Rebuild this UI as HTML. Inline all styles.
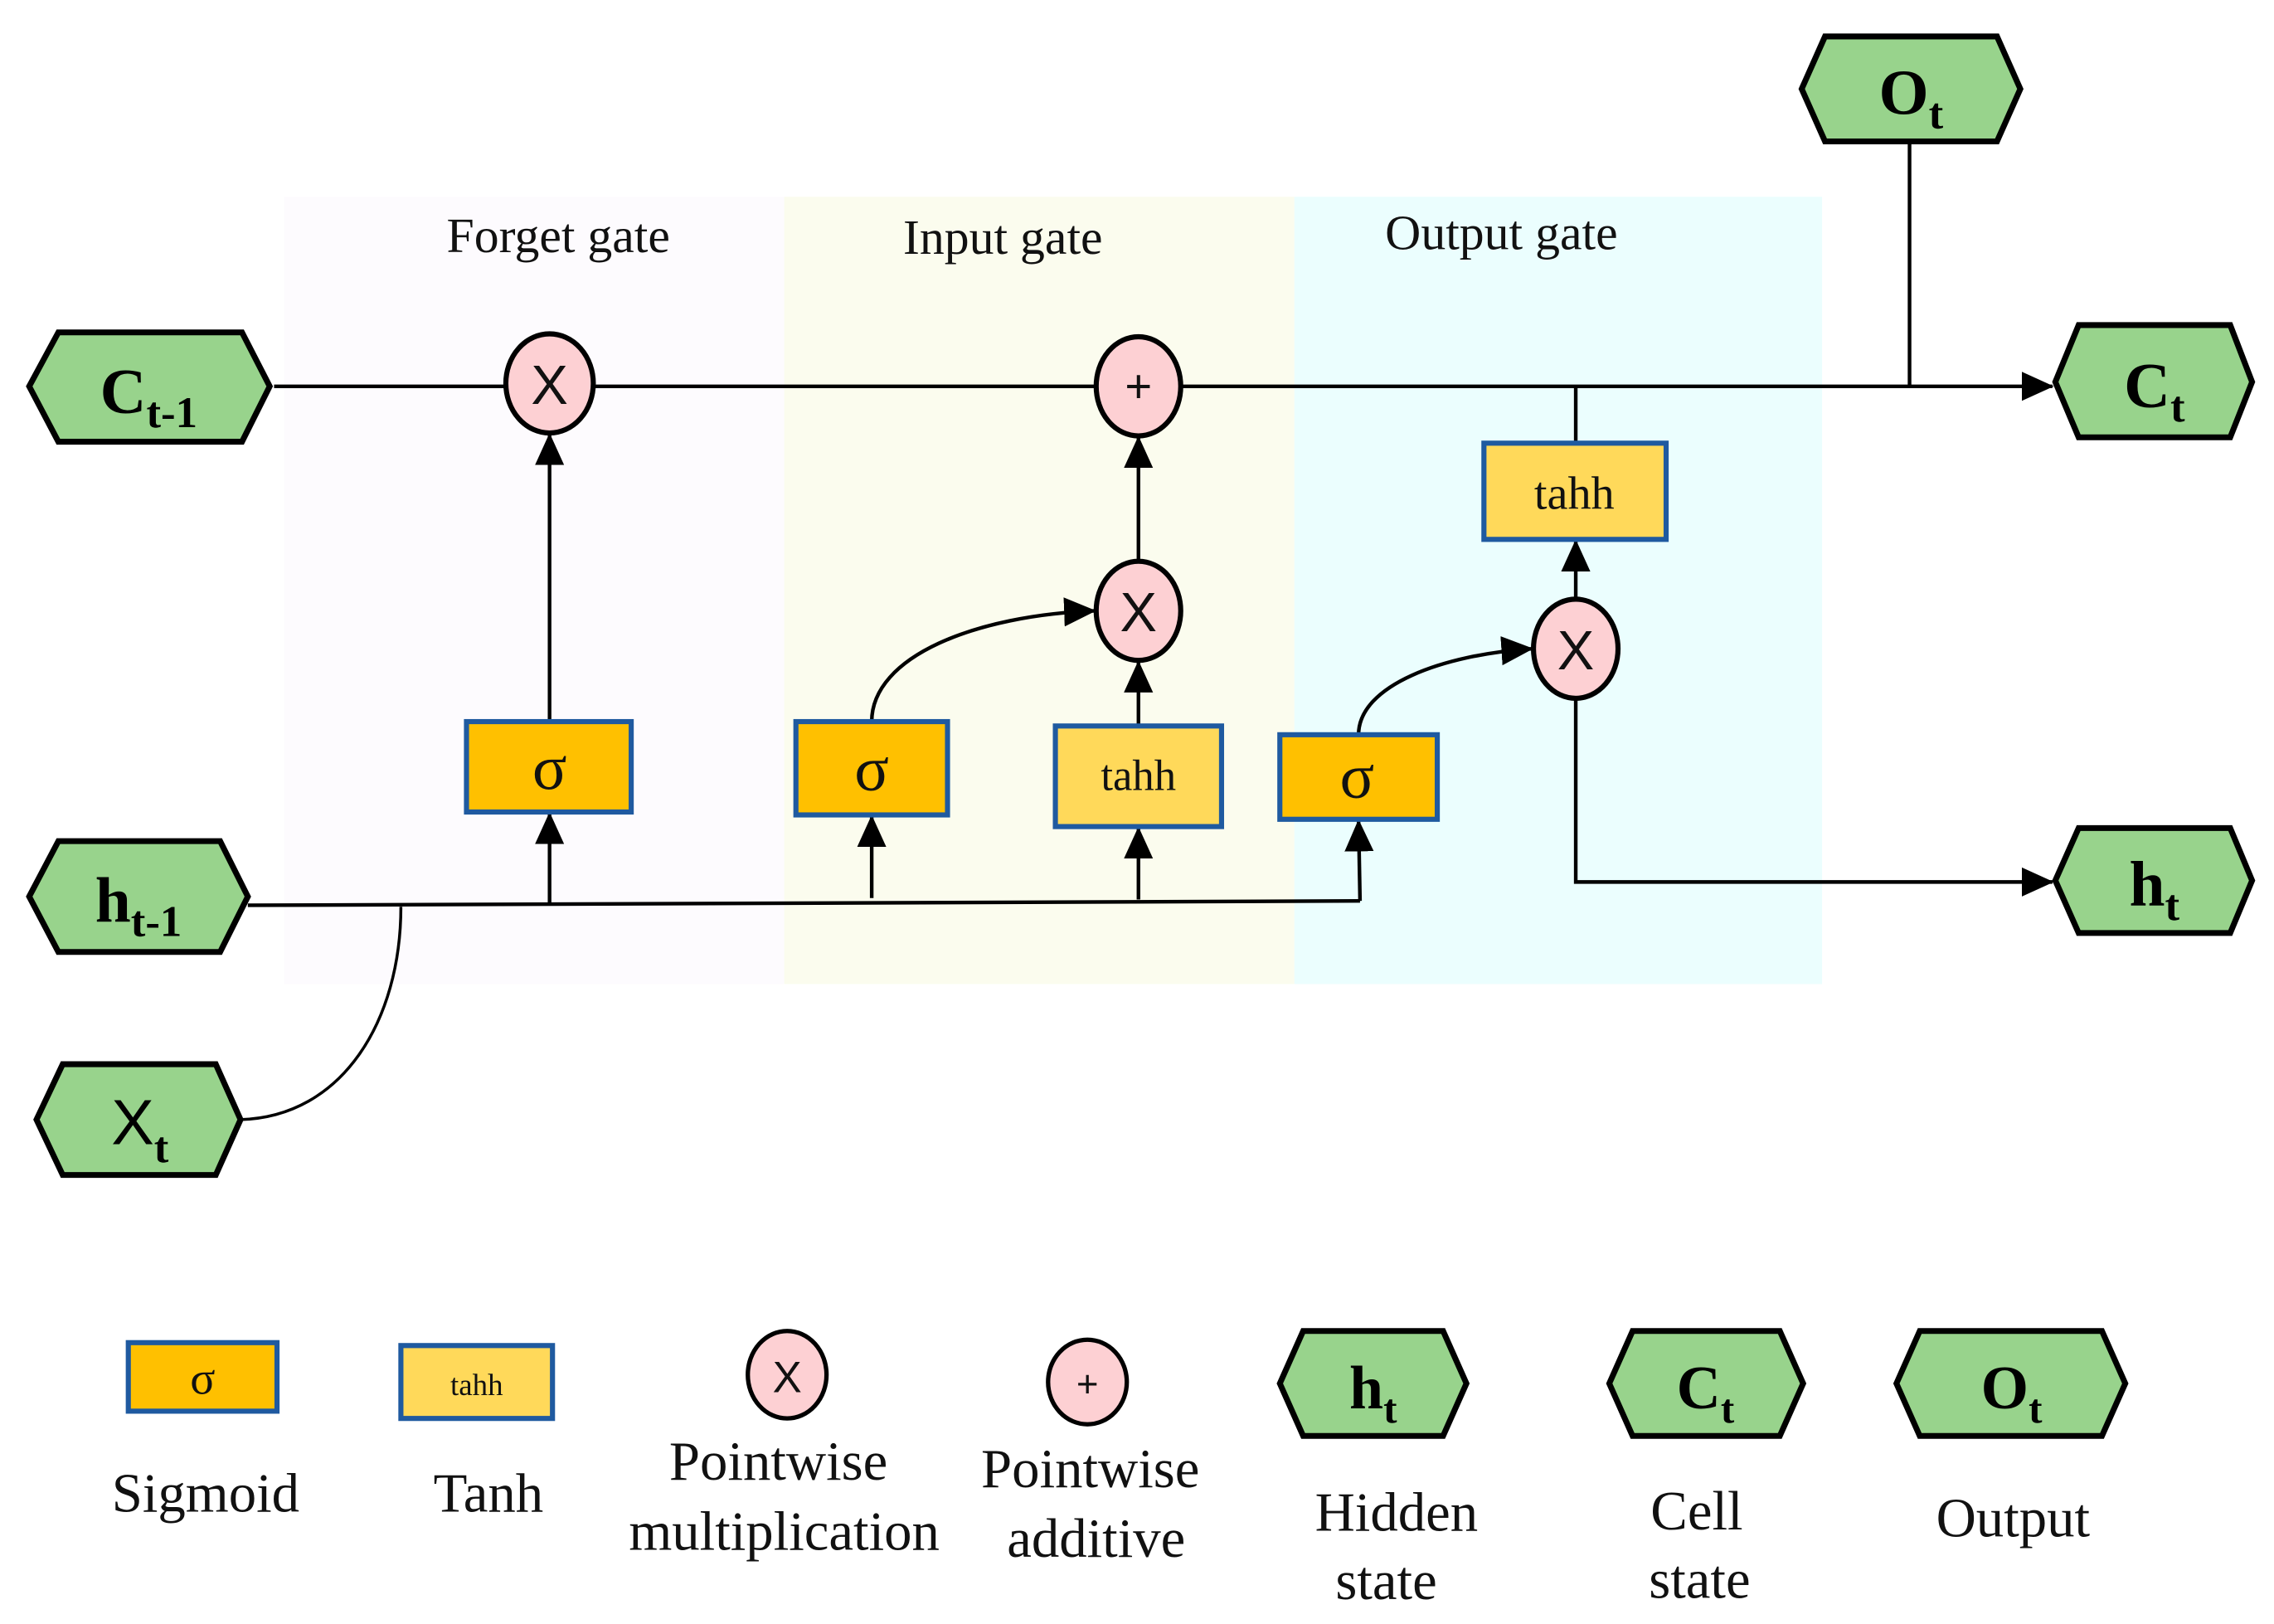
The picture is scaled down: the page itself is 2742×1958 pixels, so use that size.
<!DOCTYPE html>
<html><head><meta charset="utf-8"><style>
html,body{margin:0;padding:0;background:#fff;}
svg{display:block;}
text{font-family:"Liberation Serif",serif;}
</style></head><body>
<svg width="2742" height="1958" viewBox="0 0 1560 1114" xmlns="http://www.w3.org/2000/svg">
<defs>
<marker id="b" markerWidth="22" markerHeight="22" refX="21" refY="11" orient="auto" markerUnits="userSpaceOnUse" viewBox="0 0 22 22">
<path d="M0,1 L22,11 L0,21 z" fill="#000"/></marker>
</defs>
<rect x="195" y="135" width="343" height="540" fill="#fdfbfe"/>
<rect x="538" y="135" width="350" height="540" fill="#fbfcee"/>
<rect x="888" y="135" width="362" height="540" fill="#ebfefe"/>
<g font-size="34" text-anchor="middle" fill="#111">
<text x="383" y="173">Forget gate</text>
<text x="688" y="174">Input gate</text>
<text x="1030" y="171">Output gate</text>
</g>
<g stroke="#000" stroke-width="2.5" fill="none">
<line x1="188" y1="265" x2="347" y2="265"/>
<line x1="407" y1="265" x2="751" y2="265"/>
<line x1="811" y1="265" x2="1408" y2="265" marker-end="url(#b)"/>
<line x1="1310" y1="97" x2="1310" y2="265"/>
<line x1="1081" y1="265" x2="1081" y2="304"/>
<line x1="1081" y1="411" x2="1081" y2="371" marker-end="url(#b)"/>
<polyline points="1081,479 1081,605 1408,605" marker-end="url(#b)"/>
<line x1="170" y1="621" x2="933" y2="618"/>
<line x1="377" y1="620" x2="377" y2="558" marker-end="url(#b)"/>
<line x1="598" y1="616" x2="598" y2="560" marker-end="url(#b)"/>
<line x1="781" y1="617" x2="781" y2="568" marker-end="url(#b)"/>
<line x1="933" y1="618" x2="932" y2="563" marker-end="url(#b)"/>
<line x1="377" y1="495" x2="377" y2="298" marker-end="url(#b)"/>
<line x1="781" y1="498" x2="781" y2="454" marker-end="url(#b)"/>
<line x1="781" y1="385" x2="781" y2="300" marker-end="url(#b)"/>
<path d="M598,495 C598,450 670,422 751,419" marker-end="url(#b)"/>
<path d="M932,504 C932,470 990,449 1051,445" marker-end="url(#b)"/>
<path d="M165,768 C235,766 275,700 275,622" stroke-width="2"/>
</g>
<g fill="#fdd0d3" stroke="#000" stroke-width="3.5">
<ellipse cx="377" cy="263" rx="30" ry="34"/>
<ellipse cx="781" cy="265" rx="29" ry="34"/>
<ellipse cx="781" cy="419" rx="29" ry="34"/>
<ellipse cx="1081" cy="445" rx="29" ry="34"/>
<ellipse cx="540" cy="943" rx="27" ry="30" stroke-width="3"/>
<ellipse cx="746" cy="948" rx="27" ry="29" stroke-width="3"/>
</g>
<g text-anchor="middle" fill="#111" style="font-family:'Liberation Sans',sans-serif">
<text x="377" y="277" font-size="38" style="font-family:'Liberation Sans',sans-serif">X</text>
<text x="781" y="433" font-size="38" style="font-family:'Liberation Sans',sans-serif">X</text>
<text x="1081" y="459" font-size="38" style="font-family:'Liberation Sans',sans-serif">X</text>
<text x="781" y="276" font-size="32" style="font-family:'Liberation Sans',sans-serif">+</text>
<text x="540" y="955" font-size="30" style="font-family:'Liberation Sans',sans-serif">X</text>
<text x="746" y="958" font-size="26" style="font-family:'Liberation Sans',sans-serif">+</text>
</g>
<g stroke="#1f5aa0" stroke-width="3.5">
<rect x="320" y="495" width="113" height="62" fill="#ffc000"/>
<rect x="546" y="495" width="104" height="64" fill="#ffc000"/>
<rect x="724" y="498" width="114" height="69" fill="#ffd95a"/>
<rect x="878" y="504" width="108" height="58" fill="#ffc000"/>
<rect x="1018" y="304" width="125" height="66" fill="#ffd95a"/>
<rect x="88" y="921" width="102" height="47" fill="#ffc000"/>
<rect x="275" y="923" width="104" height="50" fill="#ffd95a"/>
</g>
<g text-anchor="middle" fill="#111">
<text x="377" y="541" font-size="44">σ</text>
<text x="598" y="542" font-size="44">σ</text>
<text x="931" y="547" font-size="44">σ</text>
<text x="781" y="542" font-size="30">tahh</text>
<text x="1080" y="349" font-size="32">tahh</text>
<text x="139" y="956" font-size="32">σ</text>
<text x="327" y="957" font-size="21">tahh</text>
</g>
<g fill="#98d38c" stroke="#000" stroke-width="4">
<polygon points="20,265 40,228 166,228 185,265 166,303 40,303"/>
<polygon points="20,615 40,577 151,577 170,615 151,653 40,653"/>
<polygon points="25,768 43,730 148,730 165,768 148,806 43,806"/>
<polygon points="1236,61 1252,25 1370,25 1386,61 1370,97 1252,97"/>
<polygon points="1410,262 1426,223 1530,223 1545,262 1530,300 1426,300"/>
<polygon points="1410,604 1426,568 1530,568 1545,604 1530,640 1426,640"/>
<polygon points="878,949 894,913 990,913 1006,949 990,985 894,985"/>
<polygon points="1104,949 1120,913 1221,913 1237,949 1221,985 1120,985"/>
<polygon points="1301,949 1317,913 1442,913 1458,949 1442,985 1317,985"/>
</g>
<g text-anchor="middle" fill="#000" font-weight="bold">
<text x="102" y="283" font-size="44">C<tspan font-size="30" dy="10">t-1</tspan></text>
<text x="95" y="632" font-size="44">h<tspan font-size="30" dy="10">t-1</tspan></text>
<text x="96" y="785" font-size="44" font-weight="normal" style="font-family:'Liberation Sans',sans-serif">X<tspan font-size="30" dy="12" font-weight="bold" style="font-family:'Liberation Serif',serif">t</tspan></text>
<text x="1311" y="78" font-size="44">O<tspan font-size="30" dy="10">t</tspan></text>
<text x="1478" y="279" font-size="44">C<tspan font-size="30" dy="10">t</tspan></text>
<text x="1478" y="621" font-size="44">h<tspan font-size="30" dy="10">t</tspan></text>
<text x="942" y="966" font-size="42">h<tspan font-size="28" dy="10">t</tspan></text>
<text x="1170" y="966" font-size="42">C<tspan font-size="28" dy="10">t</tspan></text>
<text x="1380" y="966" font-size="42">O<tspan font-size="28" dy="10">t</tspan></text>
</g>
<g text-anchor="middle" fill="#111" font-size="38">
<text x="141" y="1037">Sigmoid</text>
<text x="335" y="1037">Tanh</text>
<text x="534" y="1015">Pointwise</text>
<text x="538" y="1063">multiplication</text>
<text x="748" y="1020">Pointwise</text>
<text x="752" y="1068">additive</text>
<text x="958" y="1050">Hidden</text>
<text x="951" y="1097">state</text>
<text x="1164" y="1049">Cell</text>
<text x="1166" y="1096">state</text>
<text x="1381" y="1054">Output</text>
</g>
</svg>
</body></html>
